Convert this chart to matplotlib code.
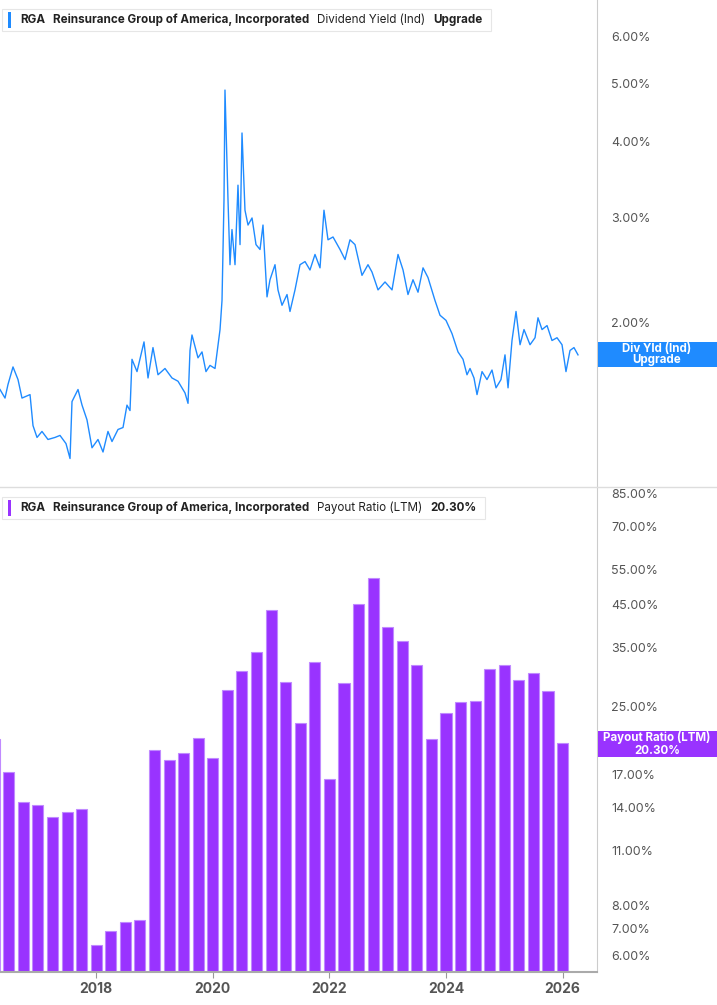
import matplotlib
matplotlib.use("Agg")
import matplotlib.pyplot as plt
from matplotlib.ticker import FixedLocator, NullLocator, FixedFormatter
from matplotlib.patches import Rectangle

plt.rcParams['font.family'] = ['Inter', 'DejaVu Sans']

yield_dates = [2016.35,2016.436,2016.487,2016.573,2016.659,2016.727,2016.865,2016.916,2016.985,2017.070,2017.173,2017.293,2017.379,2017.482,2017.551,2017.585,2017.688,2017.757,2017.842,2017.928,2018.031,2018.117,2018.202,2018.271,2018.374,2018.460,2018.528,2018.580,2018.614,2018.700,2018.820,2018.889,2018.974,2019.060,2019.180,2019.300,2019.403,2019.523,2019.575,2019.609,2019.643,2019.746,2019.815,2019.883,2019.952,2020.038,2020.124,2020.158,2020.192,2020.209,2020.261,2020.295,2020.329,2020.381,2020.432,2020.467,2020.501,2020.552,2020.604,2020.673,2020.741,2020.810,2020.861,2020.930,2020.981,2021.067,2021.118,2021.187,2021.273,2021.324,2021.410,2021.496,2021.582,2021.667,2021.753,2021.839,2021.907,2021.976,2022.062,2022.182,2022.268,2022.353,2022.439,2022.559,2022.662,2022.731,2022.834,2022.954,2023.074,2023.177,2023.263,2023.348,2023.434,2023.520,2023.606,2023.691,2023.811,2023.897,2024.000,2024.103,2024.206,2024.292,2024.360,2024.412,2024.480,2024.532,2024.618,2024.703,2024.789,2024.858,2024.943,2025.012,2025.064,2025.132,2025.201,2025.270,2025.338,2025.441,2025.527,2025.578,2025.647,2025.733,2025.818,2025.904,2025.990,2026.058,2026.127,2026.195,2026.264]
yield_values = [1.55, 1.5, 1.58, 1.69, 1.61, 1.5, 1.52, 1.35, 1.29, 1.32, 1.28, 1.29, 1.3, 1.26, 1.19, 1.48, 1.55, 1.46, 1.38, 1.24, 1.28, 1.22, 1.32, 1.27, 1.33, 1.34, 1.46, 1.43, 1.74, 1.66, 1.86, 1.62, 1.82, 1.64, 1.68, 1.62, 1.6, 1.53, 1.47, 1.8, 1.91, 1.75, 1.79, 1.66, 1.7, 1.68, 1.95, 2.18, 3.2, 4.88, 3.2, 2.5, 2.86, 2.5, 3.39, 2.7, 4.14, 3.08, 2.91, 2.99, 2.7, 2.65, 2.91, 2.21, 2.36, 2.5, 2.27, 2.14, 2.23, 2.09, 2.27, 2.5, 2.53, 2.45, 2.6, 2.47, 3.08, 2.75, 2.78, 2.65, 2.55, 2.75, 2.7, 2.4, 2.5, 2.43, 2.27, 2.34, 2.27, 2.6, 2.45, 2.23, 2.36, 2.25, 2.47, 2.38, 2.18, 2.06, 2.02, 1.92, 1.79, 1.74, 1.64, 1.68, 1.62, 1.52, 1.66, 1.61, 1.67, 1.56, 1.61, 1.77, 1.56, 1.87, 2.09, 1.84, 1.95, 1.84, 1.89, 2.04, 1.95, 1.98, 1.87, 1.89, 1.84, 1.66, 1.8, 1.82, 1.77]

payout_dates = [2016.25,2016.5,2016.75,2017.0,2017.25,2017.5,2017.75,2018.0,2018.25,2018.5,2018.75,
                2019.0,2019.25,2019.5,2019.75,2020.0,2020.25,2020.5,2020.75,2021.0,2021.25,2021.5,2021.75,
                2022.0,2022.25,2022.5,2022.75,2023.0,2023.25,2023.5,2023.75,2024.0,2024.25,2024.5,2024.75,
                2025.0,2025.25,2025.5,2025.75,2026.0]
payout_values = [20.8,17.2,14.5,14.2,13.3,13.7,13.9,6.4,6.9,7.3,7.35,
                 19.5,18.4,19.2,20.9,18.6,27.5,30.7,34.2,43.5,28.8,22.8,32.3,
                 16.5,28.6,45.0,52.3,39.5,36.4,31.7,20.8,24.1,25.7,25.9,31.0,
                 31.7,29.1,30.3,27.4,20.3]

top_ticks = [2, 3, 4, 5, 6]
bot_ticks = [6, 7, 8, 11, 14, 17, 25, 35, 45, 55, 70, 85]
year_ticks = [2018, 2020, 2022, 2024, 2026]

BLUE = '#1f8bff'
PURPLE = '#9933ff'
GRAY = '#555555'

fig = plt.figure(figsize=(7.17, 10.05), dpi=100)
ax1 = fig.add_axes([0, 1 - 487/1005, 597/717, 487/1005])
ax2 = fig.add_axes([0, 1 - 972/1005, 597/717, 485/1005])
xlim = (2016.35, 2026.59)

for ax in (ax1, ax2):
    ax.set_xlim(*xlim)
    ax.set_yscale('log')
    ax.yaxis.tick_right()
    ax.yaxis.set_minor_locator(NullLocator())
    ax.xaxis.set_minor_locator(NullLocator())
    for s in ('left', 'top'):
        ax.spines[s].set_visible(False)
    ax.spines['right'].set_color('#cccccc')
    ax.tick_params(axis='y', length=0, pad=10, labelsize=9, labelcolor=GRAY)

ax1.plot(yield_dates, yield_values, color=BLUE, lw=1.0)
ax1.set_ylim(1.067, 6.89)
ax1.yaxis.set_major_locator(FixedLocator(top_ticks))
ax1.yaxis.set_major_formatter(FixedFormatter([f"{t:.2f}%" for t in top_ticks]))
ax1.set_xticks([])
ax1.spines['bottom'].set_visible(False)

ax2.bar(payout_dates, payout_values, width=0.19, color=PURPLE, edgecolor='#c08aff', linewidth=0.8)
ax2.set_ylim(5.47, 88)
ax2.yaxis.set_major_locator(FixedLocator(bot_ticks))
ax2.yaxis.set_major_formatter(FixedFormatter([f"{t:.2f}%" for t in bot_ticks]))
ax2.set_xticks(year_ticks)
ax2.set_xticklabels([str(y) for y in year_ticks], fontweight='bold', color=GRAY, fontsize=10)
ax2.tick_params(axis='x', length=4, color='#999999')
ax2.spines['bottom'].set_color('#aaaaaa')
ax2.spines['bottom'].set_linewidth(1.5)

fig.add_artist(plt.Line2D([0, 1], [1 - 487/1005]*2, color='#dddddd', lw=1, transform=fig.transFigure))

renderer = fig.canvas.get_renderer()

def header(y, parts, color):
    x = 20
    for txt, bold in parts:
        t = fig.text(x/717, 1 - y/1005, txt, fontsize=8.4, fontweight='bold' if bold else 'normal',
                     va='center', ha='left', color='#222222', zorder=7)
        x += t.get_window_extent(renderer).width + 8
    w = x - 2
    fig.add_artist(Rectangle((2/717, 1 - (y + 11)/1005), w/717, 22/1005, transform=fig.transFigure,
                             facecolor='white', edgecolor='#e6e6e6', lw=0.8, zorder=5))
    fig.add_artist(Rectangle((8/717, 1 - (y + 8)/1005), 3/717, 16/1005, transform=fig.transFigure,
                             facecolor=color, edgecolor='none', zorder=6))

header(20, [("RGA", True), ("Reinsurance Group of America, Incorporated", True),
            ("Dividend Yield (Ind)", False), ("Upgrade", True)], BLUE)
header(508, [("RGA", True), ("Reinsurance Group of America, Incorporated", True),
             ("Payout Ratio (LTM)", False), ("20.30%", True)], PURPLE)

def side_label(y0, y1, lines, color):
    fig.add_artist(Rectangle((598/717, 1 - y1/1005), 119/717, (y1 - y0)/1005, transform=fig.transFigure,
                             facecolor=color, edgecolor='none', zorder=8))
    fig.text(657/717, 1 - (y0 + y1)/2/1005, lines, fontsize=8.3, fontweight='bold', color='white',
             ha='center', va='center', linespacing=1.0, zorder=9)

side_label(342, 367, "Div Yld (Ind)\nUpgrade", BLUE)
side_label(731, 757, "Payout Ratio (LTM)\n20.30%", PURPLE)

fig.savefig("out.png", dpi=100)
